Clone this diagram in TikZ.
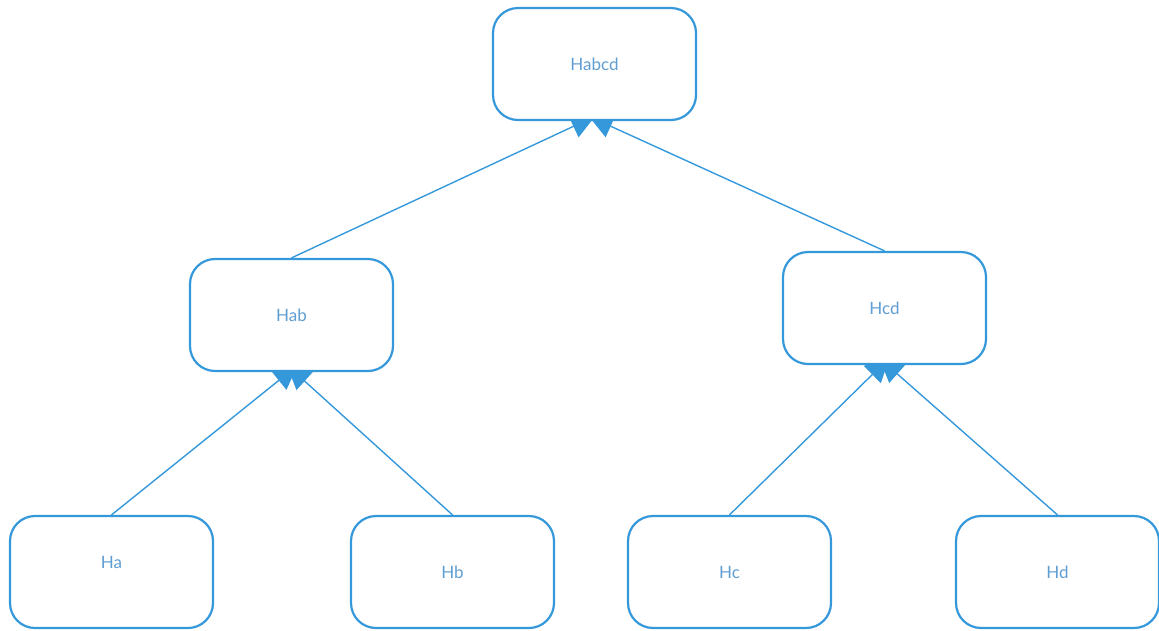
\documentclass[tikz,border=0pt]{standalone}
\usepackage{fontspec}
\setmainfont{Lato}
\usetikzlibrary{arrows.meta,backgrounds}
\definecolor{edgeblue}{RGB}{52,152,219}
\definecolor{textblue}{RGB}{95,158,210}
\begin{document}
\begin{tikzpicture}[x=1pt,y=-1pt,
  hbox/.style={draw=edgeblue, line width=2.2pt, fill=white, rounded corners=25pt,
    minimum width=203pt, minimum height=112pt, inner sep=0pt,
    text=textblue, font=\fontsize{17}{20}\selectfont},
  link/.style={draw=edgeblue, line width=1.4pt,
    -{Triangle[length=24pt,width=24pt]}, shorten >=-9pt}]
\useasboundingbox (0,0) rectangle (1159,630);
\node[hbox] (habcd) at (594.5,64) {Habcd};
\node[hbox] (hab) at (291.5,315) {Hab};
\node[hbox] (hcd) at (884.5,308) {Hcd};
\node[hbox, text depth=20pt] (ha) at (111.5,572) {Ha};
\node[hbox] (hb) at (452.5,572) {Hb};
\node[hbox] (hc) at (729.5,572) {Hc};
\node[hbox] (hd) at (1057.5,572) {Hd};
\coordinate (habcdL) at (587,120);
\coordinate (habcdR) at (597,120);
\coordinate (habL) at (290.5,371);
\coordinate (habR) at (293.5,371);
\coordinate (hcdL) at (883,364);
\coordinate (hcdR) at (886,364);
\begin{scope}[on background layer]
\draw[link] (hab.north) -- (habcdL);
\draw[link] (hcd.north) -- (habcdR);
\draw[link] (ha.north) -- (habL);
\draw[link] (hb.north) -- (habR);
\draw[link] (hc.north) -- (hcdL);
\draw[link] (hd.north) -- (hcdR);
\end{scope}
\end{tikzpicture}
\end{document}
